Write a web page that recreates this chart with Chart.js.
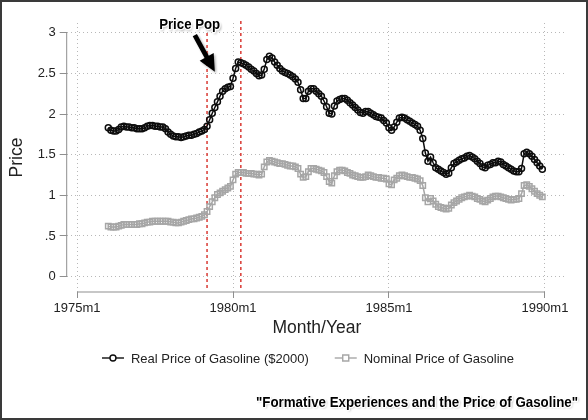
<!DOCTYPE html>
<html>
<head>
<meta charset="utf-8">
<script src="https://cdn.jsdelivr.net/npm/chart.js@4.4.1/dist/chart.umd.min.js"></script>
<style>
  html, body { margin: 0; padding: 0; background: #fff; }
  #wrap { width: 588px; height: 420px; }
</style>
</head>
<body>
<div id="wrap"><canvas id="gasChart"></canvas></div>
<script>
// months are counted from 1975m1 (= 0); the series start at 1976m1
const startMonth = 12;

const realPrice = [
  1.83, 1.80, 1.79, 1.79, 1.81, 1.84, 1.85, 1.84, 1.84, 1.83, 1.83, 1.82, // 1976
  1.82, 1.82, 1.83, 1.85, 1.86, 1.86, 1.85, 1.85, 1.84, 1.84, 1.82, 1.78, // 1977
  1.75, 1.73, 1.72, 1.72, 1.71, 1.72, 1.73, 1.74, 1.74, 1.75, 1.76, 1.78, // 1978
  1.79, 1.81, 1.85, 1.93, 2.01, 2.08, 2.15, 2.22, 2.28, 2.31, 2.33, 2.34, // 1979
  2.44, 2.56, 2.64, 2.63, 2.62, 2.60, 2.58, 2.55, 2.53, 2.50, 2.47, 2.48, // 1980
  2.55, 2.67, 2.71, 2.69, 2.64, 2.60, 2.56, 2.53, 2.51, 2.50, 2.48, 2.46, // 1981
  2.43, 2.39, 2.30, 2.19, 2.19, 2.28, 2.31, 2.31, 2.28, 2.25, 2.22, 2.16, // 1982
  2.09, 2.01, 2.00, 2.10, 2.16, 2.18, 2.19, 2.19, 2.17, 2.14, 2.11, 2.08, // 1983
  2.05, 2.02, 2.01, 2.03, 2.03, 2.01, 1.99, 1.97, 1.96, 1.95, 1.92, 1.89, // 1984
  1.83, 1.80, 1.84, 1.90, 1.95, 1.96, 1.95, 1.93, 1.91, 1.89, 1.87, 1.85, // 1985
  1.80, 1.70, 1.52, 1.42, 1.47, 1.40, 1.34, 1.32, 1.30, 1.28, 1.26, 1.27, // 1986
  1.34, 1.39, 1.41, 1.43, 1.45, 1.46, 1.48, 1.49, 1.47, 1.45, 1.42, 1.39, // 1987
  1.35, 1.34, 1.37, 1.38, 1.40, 1.40, 1.42, 1.41, 1.38, 1.36, 1.34, 1.32, // 1988
  1.30, 1.29, 1.29, 1.33, 1.51, 1.53, 1.51, 1.48, 1.44, 1.40, 1.36, 1.32  // 1989
];

const nominalPrice = [
  0.62, 0.61, 0.61, 0.61, 0.62, 0.63, 0.64, 0.64, 0.64, 0.64, 0.64, 0.64, // 1976
  0.65, 0.65, 0.66, 0.67, 0.67, 0.68, 0.68, 0.68, 0.68, 0.68, 0.68, 0.68, // 1977
  0.67, 0.67, 0.66, 0.66, 0.67, 0.68, 0.69, 0.70, 0.71, 0.71, 0.72, 0.73, // 1978
  0.74, 0.76, 0.80, 0.86, 0.92, 0.97, 1.01, 1.03, 1.05, 1.07, 1.09, 1.11, // 1979
  1.19, 1.26, 1.28, 1.28, 1.28, 1.27, 1.27, 1.27, 1.26, 1.26, 1.25, 1.26, // 1980
  1.35, 1.41, 1.43, 1.42, 1.41, 1.40, 1.39, 1.39, 1.38, 1.37, 1.36, 1.36, // 1981
  1.35, 1.33, 1.26, 1.22, 1.23, 1.29, 1.33, 1.33, 1.32, 1.31, 1.30, 1.28, // 1982
  1.23, 1.17, 1.15, 1.24, 1.29, 1.31, 1.31, 1.30, 1.28, 1.27, 1.25, 1.24, // 1983
  1.23, 1.22, 1.22, 1.23, 1.25, 1.24, 1.23, 1.22, 1.22, 1.21, 1.21, 1.20, // 1984
  1.14, 1.13, 1.19, 1.21, 1.24, 1.25, 1.24, 1.23, 1.22, 1.22, 1.21, 1.20, // 1985
  1.18, 1.12, 0.97, 0.92, 0.96, 0.93, 0.89, 0.86, 0.85, 0.84, 0.83, 0.84, // 1986
  0.88, 0.91, 0.93, 0.95, 0.97, 0.98, 0.99, 1.00, 0.99, 0.98, 0.96, 0.95, // 1987
  0.93, 0.92, 0.94, 0.96, 0.98, 0.99, 0.99, 0.98, 0.97, 0.96, 0.95, 0.94, // 1988
  0.95, 0.95, 0.96, 1.02, 1.12, 1.13, 1.11, 1.08, 1.05, 1.02, 1.00, 0.98  // 1989
];

const seriesNames = ["Real Price of Gasoline ($2000)", "Nominal Price of Gasoline"];
const xTickMonths = [0, 60, 120, 180];
const xTickLabels = ["1975m1", "1980m1", "1985m1", "1990m1"];
const yTickValues = [0, 0.5, 1, 1.5, 2, 2.5, 3];
const yTickLabels = ["0", ".5", "1", "1.5", "2", "2.5", "3"];
const eventMonths = [50, 63]; // 1979m3 and 1980m4
const noteText = "Price Pop";
const captionText = "\"Formative Experiences and the Price of Gasoline\"";

const toPoints = (arr) => arr.map((v, i) => ({ x: startMonth + i, y: v }));

const realColor = "#0d0d0d";
const nominalColor = "#a6a6a6";
const axisColor = "#8f8f8f";
const gridColor = "rgba(0,0,0,0.28)";
const FONT = "'Liberation Sans', Arial, sans-serif";

// fit a bold string into a given width (the original uses a narrow face)
function fitText(ctx, text, x, y, size, width, align) {
  ctx.font = "bold " + size + "px " + FONT;
  const w = ctx.measureText(text).width;
  const k = Math.min(1, width / w);
  ctx.save();
  ctx.translate(x, y);
  ctx.scale(k, 1);
  ctx.textAlign = align;
  ctx.textBaseline = "middle";
  ctx.lineJoin = "round";
  // soft drop shadow first, then a white halo, then the text itself
  ctx.fillStyle = "rgba(0,0,0,0.35)";
  ctx.filter = "blur(1px)";
  ctx.fillText(text, 1.5, 1.5);
  ctx.filter = "none";
  ctx.strokeStyle = "#fff";
  ctx.lineWidth = 2.5;
  ctx.strokeText(text, 0, 0);
  ctx.fillStyle = "#000";
  ctx.fillText(text, 0, 0);
  ctx.restore();
}

function drawArrow(ctx, x0, y0, x1, y1) {
  const dx = x1 - x0, dy = y1 - y0;
  const len = Math.hypot(dx, dy);
  const ux = dx / len, uy = dy / len;
  const nx = -uy, ny = ux;
  const headLen = 17, headHalf = 8, shaft = 2.4;
  const bx = x1 - ux * headLen, by = y1 - uy * headLen;
  ctx.beginPath();
  ctx.moveTo(x0 + nx * shaft, y0 + ny * shaft);
  ctx.lineTo(bx + nx * shaft, by + ny * shaft);
  ctx.lineTo(bx + nx * headHalf, by + ny * headHalf);
  ctx.lineTo(x1, y1);
  ctx.lineTo(bx - nx * headHalf, by - ny * headHalf);
  ctx.lineTo(bx - nx * shaft, by - ny * shaft);
  ctx.lineTo(x0 - nx * shaft, y0 - ny * shaft);
  ctx.closePath();
  ctx.fill();
}

const decorations = {
  id: "decorations",
  beforeDatasetsDraw(chart) {
    const { ctx, chartArea: a, scales: { x, y } } = chart;
    ctx.save();
    ctx.strokeStyle = axisColor;
    ctx.lineWidth = 1;
    ctx.beginPath();
    ctx.moveTo(a.left, y.getPixelForValue(yTickValues[yTickValues.length - 1]));
    ctx.lineTo(a.left, y.getPixelForValue(yTickValues[0]));
    ctx.moveTo(x.getPixelForValue(xTickMonths[0]), a.bottom);
    ctx.lineTo(x.getPixelForValue(xTickMonths[xTickMonths.length - 1]), a.bottom);
    ctx.stroke();

    ctx.strokeStyle = "#d93a34";
    ctx.lineWidth = 1.5;
    ctx.setLineDash([3, 3]);
    eventMonths.forEach((m) => {
      const px = x.getPixelForValue(m);
      ctx.beginPath();
      ctx.moveTo(px, a.top - 2);
      ctx.lineTo(px, a.bottom - 3);
      ctx.stroke();
    });
    ctx.restore();
  },
  afterDraw(chart) {
    const { ctx, scales: { x, y } } = chart;
    ctx.save();

    // arrow pointing at the start of the rise
    ctx.save();
    ctx.fillStyle = "rgba(0,0,0,0.3)";
    ctx.filter = "blur(1px)";
    drawArrow(ctx, x.getPixelForValue(45.3) + 1.5, y.getPixelForValue(2.97) + 1.5,
                   x.getPixelForValue(53) + 1.5, y.getPixelForValue(2.52) + 1.5);
    ctx.restore();
    ctx.fillStyle = "#000";
    drawArrow(ctx, x.getPixelForValue(45.3), y.getPixelForValue(2.97),
                   x.getPixelForValue(53), y.getPixelForValue(2.52));
    fitText(ctx, noteText, x.getPixelForValue(43.3), y.getPixelForValue(3.09), 14, 61, "center");

    // legend
    ctx.font = "13px " + FONT;
    const w1 = ctx.measureText(seriesNames[0]).width;
    const w2 = ctx.measureText(seriesNames[1]).width;
    const sym = 22, gap = 7, sep = 26;
    const total = sym + gap + w1 + sep + sym + gap + w2;
    let lx = 308 - total / 2;
    const ly = 358;
    const items = [
      { name: seriesNames[0], w: w1, ds: chart.data.datasets[0] },
      { name: seriesNames[1], w: w2, ds: chart.data.datasets[1] }
    ];
    items.forEach((it) => {
      const c = it.ds.borderColor;
      ctx.strokeStyle = c;
      ctx.lineWidth = 1.4;
      ctx.beginPath();
      ctx.moveTo(lx, ly);
      ctx.lineTo(lx + sym, ly);
      ctx.stroke();
      const cx = lx + sym / 2;
      ctx.fillStyle = "#fff";
      ctx.beginPath();
      if (it.ds.pointStyle === "rect") {
        ctx.rect(cx - 3, ly - 3, 6, 6);
      } else {
        ctx.arc(cx, ly, 3, 0, Math.PI * 2);
      }
      ctx.fill();
      ctx.stroke();
      ctx.fillStyle = "#222";
      ctx.textAlign = "left";
      ctx.textBaseline = "middle";
      ctx.fillText(it.name, lx + sym + gap, ly + 1);
      lx += sym + gap + it.w + sep;
    });

    // caption
    fitText(ctx, captionText, 578, 403, 14, 322, "right");

    // outer frame
    ctx.strokeStyle = "#3a3a3a";
    ctx.lineWidth = 2;
    ctx.strokeRect(1, 1, chart.width - 2, chart.height - 2);
    ctx.restore();
  }
};

new Chart(document.getElementById("gasChart"), {
  type: "line",
  data: {
    datasets: [
      {
        label: seriesNames[0],
        data: toPoints(realPrice),
        borderColor: realColor,
        borderWidth: 1.5,
        pointStyle: "circle",
        pointRadius: 3,
        pointBorderWidth: 1.5,
        pointBorderColor: realColor,
        pointBackgroundColor: "rgba(0,0,0,0)",
        tension: 0
      },
      {
        label: seriesNames[1],
        data: toPoints(nominalPrice),
        borderColor: nominalColor,
        borderWidth: 1.5,
        pointStyle: "rect",
        pointRadius: 3.8,
        pointBorderWidth: 1.5,
        pointBorderColor: nominalColor,
        pointBackgroundColor: "rgba(0,0,0,0)",
        tension: 0
      }
    ]
  },
  options: {
    responsive: true,
    maintainAspectRatio: false,
    animation: false,
    layout: { padding: { top: 23, right: 21, left: 0, bottom: 78 } },
    plugins: {
      legend: { display: false },
      tooltip: { enabled: false }
    },
    scales: {
      x: {
        type: "linear",
        min: -4,
        max: 188.5,
        afterFit: (s) => { s.height = 50; },
        afterBuildTicks: (s) => { s.ticks = xTickMonths.map((v) => ({ value: v })); },
        ticks: {
          autoSkip: false,
          maxRotation: 0,
          padding: 3,
          color: "#222",
          font: { family: FONT, size: 13 },
          callback: (v) => xTickLabels[xTickMonths.indexOf(v)]
        },
        grid: {
          color: gridColor,
          lineWidth: 1,
          tickLength: 6,
          tickColor: axisColor,
          tickBorderDash: [],
          tickWidth: 1
        },
        border: { display: false, dash: [1, 3] },
        title: {
          display: true,
          text: "Month/Year",
          color: "#222",
          font: { family: FONT, size: 17.5 },
          padding: { top: 0, bottom: 3.5 }
        }
      },
      y: {
        min: -0.19,
        max: 3.12,
        afterFit: (s) => { s.width = 66.7; },
        afterBuildTicks: (s) => { s.ticks = yTickValues.map((v) => ({ value: v })); },
        ticks: {
          padding: 4,
          color: "#222",
          font: { family: FONT, size: 13 },
          callback: (v) => yTickLabels[yTickValues.indexOf(v)]
        },
        grid: {
          color: gridColor,
          lineWidth: 1,
          tickLength: 7,
          tickColor: axisColor,
          tickBorderDash: [],
          tickWidth: 1
        },
        border: { display: false, dash: [1, 3] },
        title: {
          display: true,
          text: "Price",
          color: "#222",
          font: { family: FONT, size: 17.5 },
          padding: { top: 6.5, bottom: 0 }
        }
      }
    }
  },
  plugins: [decorations]
});
</script>
</body>
</html>
